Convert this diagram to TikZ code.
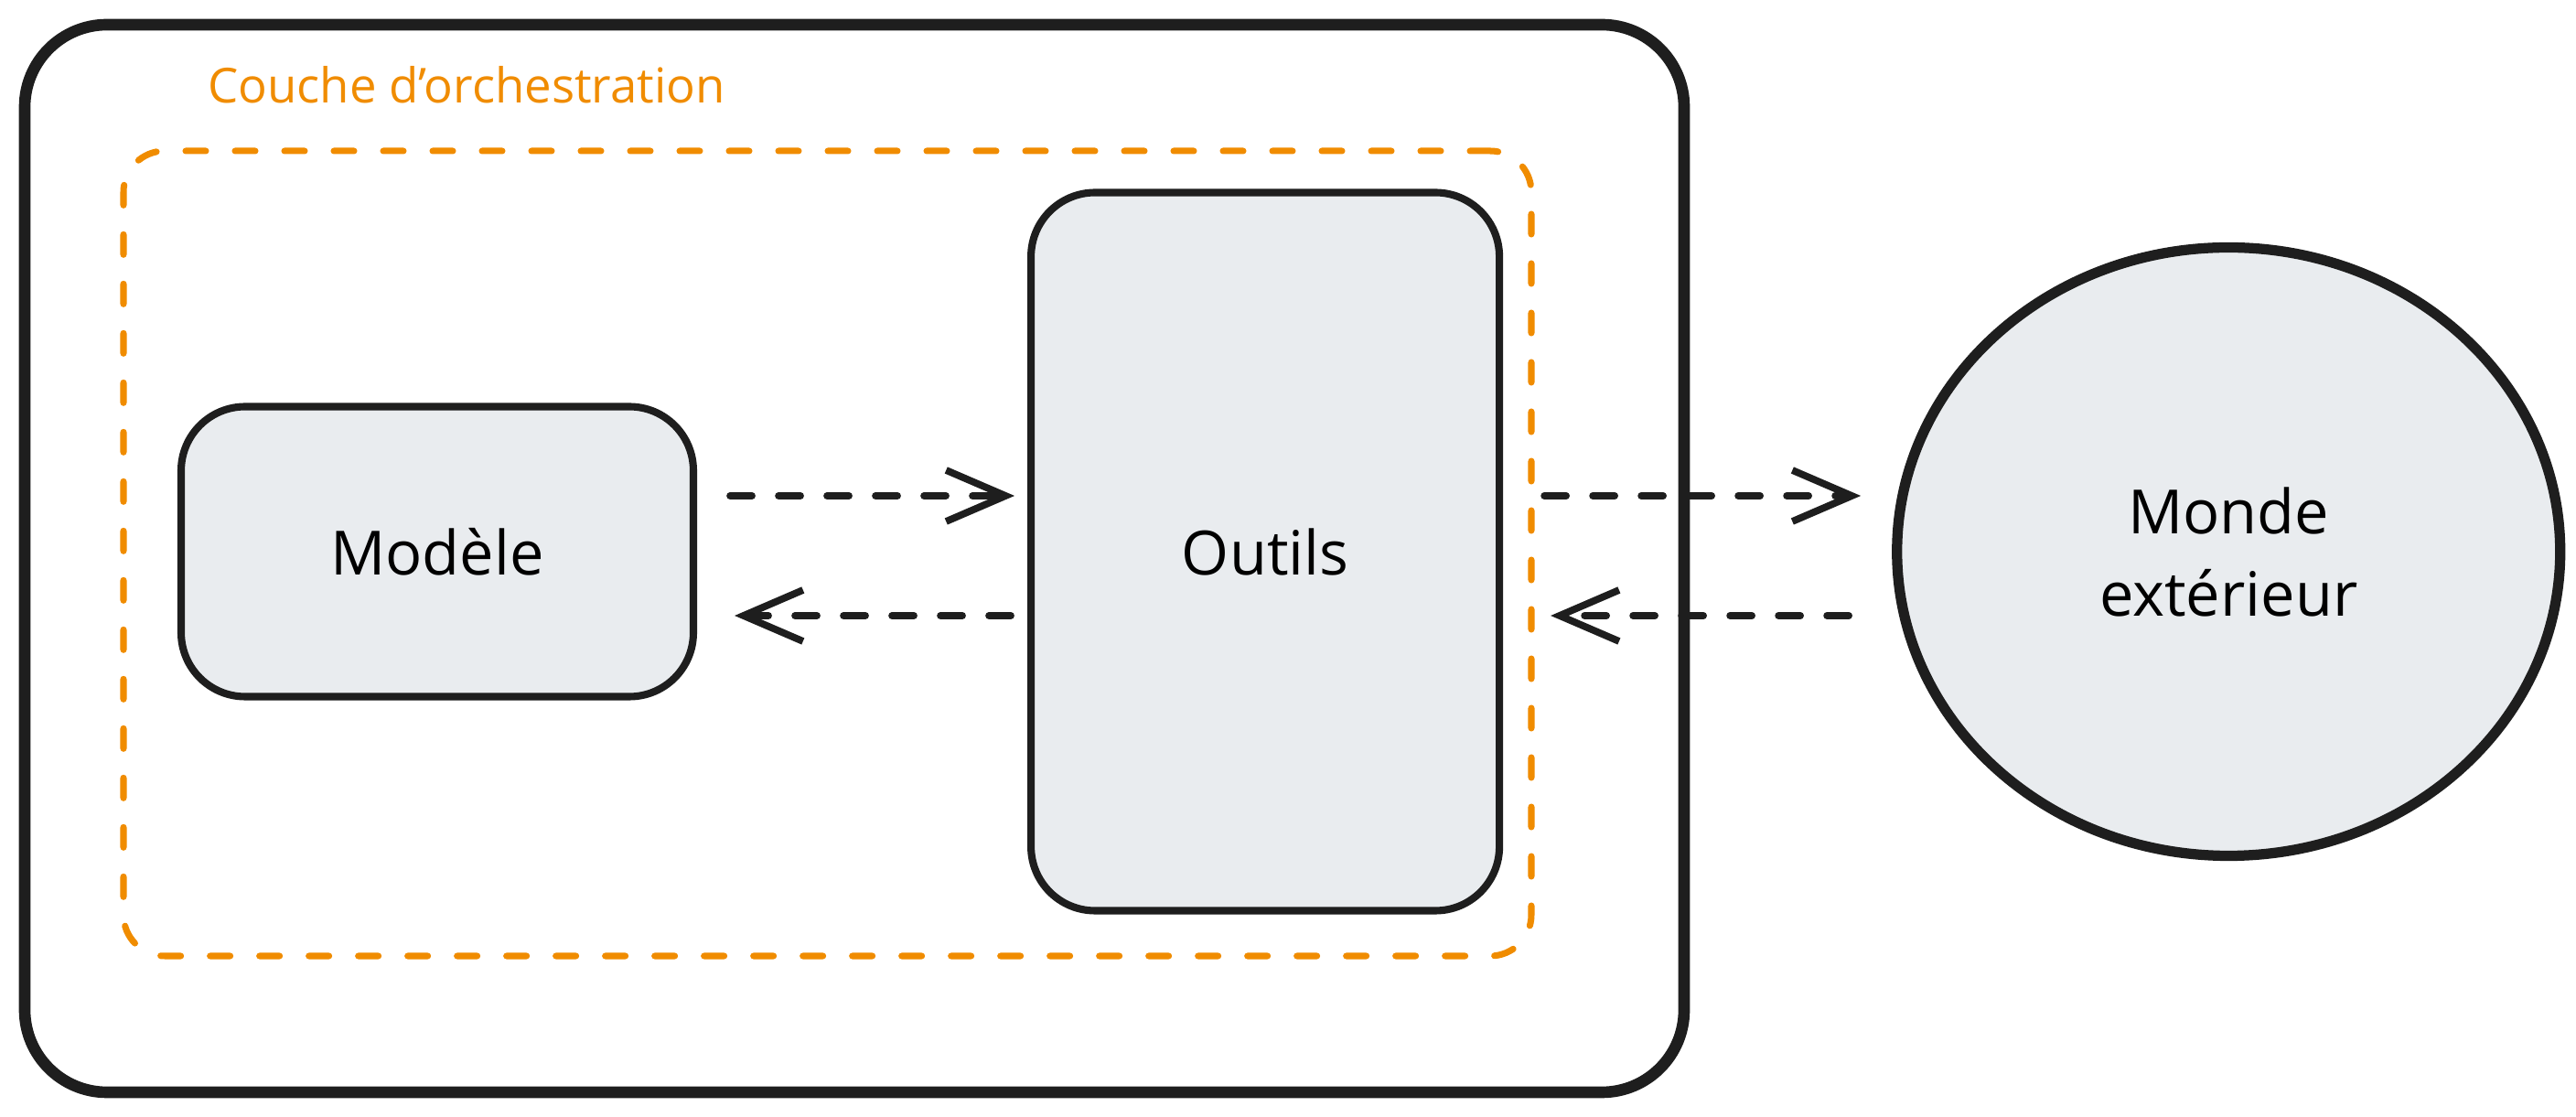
\documentclass[tikz,border=0pt]{standalone}
\usepackage{xcolor}
\usepackage{fontspec}
\setmainfont{Open Sans}
\usepackage{tikz}
\usetikzlibrary{shapes.geometric, arrows.meta, positioning}
\definecolor{ink}{HTML}{1E1E1E}
\definecolor{orch}{HTML}{F08C00}
\definecolor{boxfill}{HTML}{E9ECEF}
\tikzset{
  frame/.style={
    rectangle, rounded corners=0.9cm,
    draw=ink, line width=3.6pt,
    minimum width=18.14cm, minimum height=11.67cm,
    inner sep=0pt
  },
  orchestration/.style={
    rectangle, rounded corners=0.45cm,
    draw=orch, line width=2pt, line cap=round,
    dash pattern=on 2.2mm off 3.2mm,
    minimum width=15.39cm, minimum height=8.8cm,
    inner sep=0pt
  },
  component/.style={
    rectangle, rounded corners=0.7cm,
    draw=ink, line width=2.3pt,
    fill=boxfill, inner sep=0pt,
    font=\fontsize{19}{25}\selectfont
  },
  world/.style={
    ellipse, draw=ink, line width=3.2pt,
    fill=boxfill, inner sep=0pt,
    minimum width=7.25cm, minimum height=6.65cm,
    align=center, font=\fontsize{19}{25.6}\selectfont
  },
  flow/.style={-{Straight Barb[length=6.5mm, width=5.6mm]}, draw=ink,
    line width=2.2pt, line cap=round, dash pattern=on 2.4mm off 2.9mm},
  lbl/.style={font=\fontsize{15}{18}\selectfont, text=orch, anchor=west}
}

\begin{document}
\begin{tikzpicture}

  \useasboundingbox (0,0) rectangle (28.16,12.21);

  % ---- Containers ----
  \node[frame]         (host)  at (9.34,6.105) {};
  \node[orchestration] (layer) at (9.045,6.16) {};
  \node[lbl] (layerlbl) at (2.15,11.28) {Couche d'orchestration};

  % ---- Components ----
  \node[component, minimum width=5.60cm, minimum height=3.17cm] (modele) at (4.78,6.18) {Modèle};
  \node[component, minimum width=5.12cm, minimum height=7.85cm, right=3.61cm of modele] (outils) {Outils};
  \node[world, right=4.25cm of outils] (monde) {Monde\\extérieur};

  % ---- Arrows ----
  \coordinate (toolsIn)  at ([yshift=6.1mm]modele.east);
  \coordinate (toolsOut) at ([yshift=-7mm]outils.west);
  \coordinate (worldIn)  at ([yshift=6.1mm]outils.east);
  \coordinate (worldOut) at ([yshift=-7mm]monde.west);

  \draw[flow, shorten <=3.6mm, shorten >=1.4mm] (toolsIn)  -- (toolsIn -| outils.west);
  \draw[flow, shorten <=1.8mm, shorten >=4.1mm] (toolsOut) -- (toolsOut -| modele.east);
  \draw[flow, shorten <=4.5mm, shorten >=3.4mm] (worldIn)  -- (worldIn -| monde.west);
  \draw[flow, shorten <=4.7mm, shorten >=5.2mm] (worldOut) -- (worldOut -| outils.east);

\end{tikzpicture}
\end{document}
